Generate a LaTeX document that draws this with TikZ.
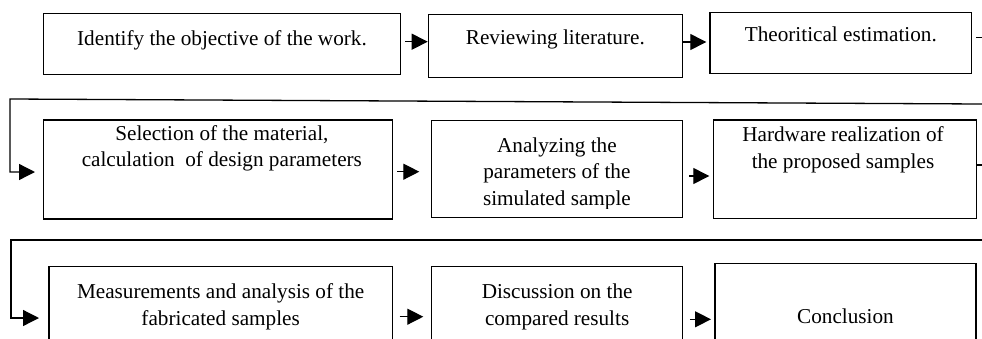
\documentclass[tikz,border=0pt]{standalone}
\usepackage{fontspec}
\setmainfont{Liberation Serif}
\usetikzlibrary{arrows.meta,calc}
\tikzset{
  box/.style={draw, line width=1.3pt, inner sep=0pt, anchor=north west},
  txt/.style={align=center, inner sep=0pt, anchor=base, font=\fontsize{21.2}{26.3}\selectfont},
  arr/.style={line width=1.3pt, -{Triangle[length=16pt,width=16pt]}},
  ln/.style={line width=1.3pt}
}
\begin{document}
\begin{tikzpicture}[x=1pt,y=-1pt]
\clip (0,0) rectangle (982,338);
\fill[white] (0,0) rectangle (982,338);
% boxes
\node[box, minimum width=357.3pt, minimum height=61.3pt] (b1) at (42.7,12.7) {};
\node[box, minimum width=254pt, minimum height=63.3pt] (b2) at (427.7,13.7) {};
\node[box, minimum width=261.7pt, minimum height=61.3pt] (b3) at (709.3,11.7) {};
\node[box, minimum width=349pt, minimum height=99pt] (b4) at (42.7,119.3) {};
\node[box, minimum width=250.5pt, minimum height=97pt] (b5) at (431,120) {};
\node[box, minimum width=263.3pt, minimum height=98.7pt] (b6) at (712.7,119.3) {};
\node[box, minimum width=343.4pt, minimum height=101pt] (b7) at (48.3,266) {};
\node[box, minimum width=251pt, minimum height=101pt] (b8) at (431,266) {};
\node[box, minimum width=261pt, minimum height=113pt] (b9) at (714.3,262.7) {};
% texts (base anchor = baseline of the last line)
\node[txt] (t1) at (b1.center |- 0,45) {Identify the objective of the work.};
\node[txt] (t2) at (b2.center |- 0,44) {Reviewing literature.};
\node[txt] (t3) at (b3.center |- 0,41.7) {Theoritical estimation.};
\node[txt] (t4) at ($(b4.center |- 0,166.7)+(4,0)$) {Selection of the material,\\calculation\ \ of design parameters};
\begin{scope}
\clip (431,100) rectangle (681,208.5);
\node[txt] (t5) at (b5.center |- 0,205) {Analyzing the\\parameters of the\\simulated sample};
\end{scope}
\node[txt] (t6) at ($(b6.center |- 0,168)+(-2,0)$) {Hardware realization of\\the proposed samples};
\node[txt] (t7) at (b7.center |- 0,325) {Measurements and analysis of the\\fabricated samples};
\node[txt] (t8) at (b8.center |- 0,325) {Discussion on the\\compared results};
\node[txt] (t9) at (b9.center |- 0,323.3) {Conclusion};
% arrow rows
\coordinate (r1y) at (0,41.7);
\coordinate (r1z) at (0,42);
\coordinate (r2y) at (0,171.7);
\coordinate (r2z) at (0,176);
\coordinate (r3y) at (0,316.7);
\coordinate (r3z) at (0,319.3);
\draw[arr, shorten <=4pt] (b1.east |- r1y) -- (b2.west |- r1y);
\draw[arr, shorten >=3pt] (b2.east |- r1z) -- (b3.west |- r1z);
\draw[arr, shorten <=4.3pt, shorten >=11.7pt] (b4.east |- r2y) -- (b5.west |- r2y);
\draw[arr, shorten <=6.5pt, shorten >=3.4pt] (b5.east |- r2z) -- (b6.west |- r2z);
\draw[arr, shorten <=6.6pt, shorten >=7.7pt] (b7.east |- r3y) -- (b8.west |- r3y);
\draw[arr, shorten <=6.6pt, shorten >=3.3pt] (b8.east |- r3z) -- (b9.west |- r3z);
% stubs on the right
\coordinate (s1) at (982,37.3);
\coordinate (s2) at (982,165);
\draw[ln, shorten <=4pt] (b3.east |- s1) -- (s1);
\draw[ln] (b6.east |- s2) -- (s2);
% return connectors
\coordinate (c1a) at (982,104);
\coordinate (c1b) at (10,99);
\coordinate (c1c) at (10,172);
\draw[arr, shorten >=7.7pt, line join=miter] (c1a) -- (c1b) -- (c1c) -- (c1c -| b4.west);
\coordinate (c2a) at (982,240);
\coordinate (c2b) at (11,240);
\coordinate (c2c) at (11,318);
\draw[arr, shorten >=9.3pt, line join=miter] (c2a) -- (c2b) -- (c2c) -- (c2c -| b7.west);
\end{tikzpicture}
\end{document}
